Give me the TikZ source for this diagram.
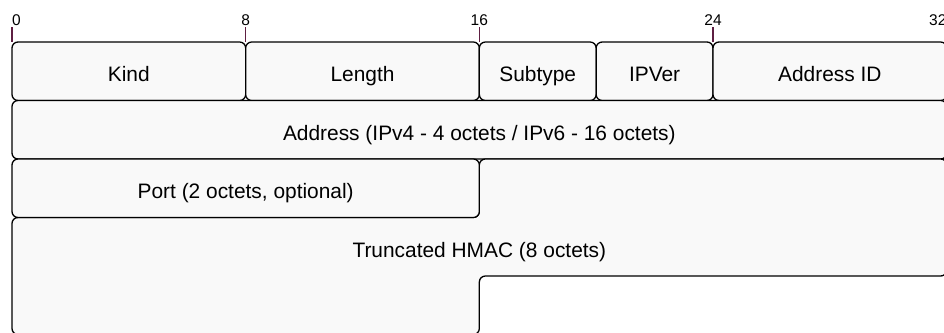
\documentclass[tikz,border=0pt]{standalone}
\usepackage{fontspec}
\setmainfont{Liberation Sans}
\definecolor{fieldfill}{HTML}{F9F9F9}
\definecolor{tickcol}{HTML}{5E1F42}
\begin{document}
\begin{tikzpicture}[x=1pt,y=-1pt,
  field/.style={draw=black,fill=fieldfill,line width=1.3pt,rounded corners=6pt},
  lbl/.style={anchor=base,inner sep=0pt,font=\fontsize{20.9}{25}\selectfont},
  ticklbl/.style={anchor=base,inner sep=0pt,font=\fontsize{15.5}{18}\selectfont},
  tickline/.style={draw=tickcol,line width=1.2pt}]
\useasboundingbox (0,0) rectangle (944,332);
\clip (0,0) rectangle (944,332);
\def\Xa{12}\def\Xb{245.67}\def\Xc{479.33}\def\Xd{596.17}\def\Xe{713}\def\Xf{946.67}
% ticks
\foreach \x/\n/\a in {\Xa/0/base west,\Xb/8/base,\Xc/16/base,\Xe/24/base,\Xf/32/base east}{
  \draw[tickline] (\x,27) -- (\x,42);
  \node[ticklbl,anchor=\a] (t\n) at (\x,25.5) {\n};
}
% row 1
\path[field] (\Xa,42) rectangle (\Xb,100.5);
\path[field] (\Xb,42) rectangle (\Xc,100.5);
\path[field] (\Xc,42) rectangle (\Xd,100.5);
\path[field] (\Xd,42) rectangle (\Xe,100.5);
\path[field] (\Xe,42) rectangle (\Xf,100.5);
% row 2
\path[field] (\Xa,100.5) rectangle (\Xf,159);
% HMAC
\path[field] (\Xa,217.5) -- (\Xc,217.5) -- (\Xc,159) -- (\Xf,159) -- (\Xf,276) -- (\Xc,276) -- (\Xc,334.5) -- (\Xa,334.5) -- cycle;
% port
\path[field] (\Xa,159) rectangle (\Xc,217.5);
% labels
\node[lbl] (kind) at (128.83,81.9) {Kind};
\node[lbl] (length) at (362.5,81.9) {Length};
\node[lbl] (subtype) at (537.75,81.9) {Subtype};
\node[lbl] (ipver) at (654.58,81.9) {IPVer};
\node[lbl] (addrid) at (829.83,81.9) {Address ID};
\node[lbl] (addr) at (479.33,140.4) {Address (IPv4 - 4 octets / IPv6 - 16 octets)};
\node[lbl] (port) at (245.67,198.9) {Port (2 octets, optional)};
\node[lbl] (hmac) at (479.33,257.4) {Truncated HMAC (8 octets)};
\end{tikzpicture}
\end{document}
